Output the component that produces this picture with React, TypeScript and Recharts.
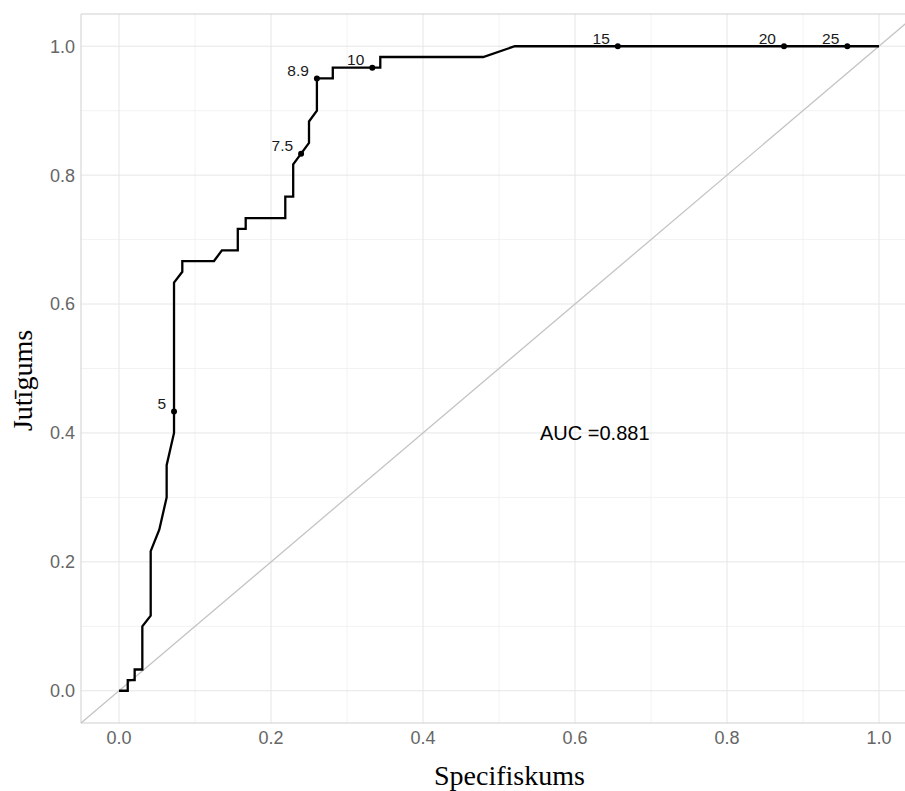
import { ComposedChart, Line, Scatter, XAxis, YAxis, CartesianGrid, ReferenceLine, ReferenceArea } from 'recharts'

// ROC curve
const rocX = [0, 0.0115, 0.0115, 0.0206, 0.0206, 0.0307, 0.0307, 0.0417, 0.0417, 0.053, 0.0627, 0.0627, 0.0724, 0.0724, 0.0724,
  0.0833, 0.0833, 0.125, 0.1354, 0.1563, 0.1563, 0.1667, 0.1667, 0.2188, 0.2188, 0.2292, 0.2292, 0.2396, 0.25, 0.25,
  0.2604, 0.2604, 0.2813, 0.2813, 0.3333, 0.3438, 0.3438, 0.4792, 0.5208, 0.6563, 0.875, 0.9583, 1]
const rocY = [0, 0, 0.0166, 0.0166, 0.033, 0.033, 0.1, 0.1166, 0.2167, 0.25, 0.3, 0.35, 0.4, 0.4333, 0.6333,
  0.65, 0.6667, 0.6667, 0.6833, 0.6833, 0.7167, 0.7167, 0.7333, 0.7333, 0.7667, 0.7667, 0.8167, 0.8333, 0.85, 0.8833,
  0.9, 0.95, 0.95, 0.9667, 0.9667, 0.9667, 0.9833, 0.9833, 1, 1, 1, 1, 1]

// threshold points
const cutLabels = ['5', '7.5', '8.9', '10', '15', '20', '25']
const cutX = [0.0724, 0.2396, 0.2604, 0.3333, 0.6563, 0.875, 0.9583]
const cutY = [0.4333, 0.8333, 0.95, 0.9667, 1, 1, 1]

const ticks = [0, 0.2, 0.4, 0.6, 0.8, 1]
const minorTicks = [0.1, 0.3, 0.5, 0.7, 0.9]
const aucText = 'AUC =0.881'

const roc = rocX.map((x, i) => ({ x, y: rocY[i] }))
const cuts = cutX.map((x, i) => ({ x, y: cutY[i], label: cutLabels[i] }))
const auc = [{ x: 0.626, y: 0.4, label: aucText }]

const sans = '"Liberation Sans", Arial, sans-serif'
const serif = '"Liberation Serif", "Times New Roman", serif'

const CutDot = (p: any) => (
  <g>
    <circle cx={p.cx} cy={p.cy} r={3} fill="#000" />
    <text x={p.cx - 8} y={p.cy - 2.5} textAnchor="end" fontSize={15.5} fontFamily={sans} fill="#1a1a1a">{p.payload.label}</text>
  </g>
)

const AucText = (p: any) => (
  <text x={p.cx} y={p.cy} textAnchor="middle" dominantBaseline="central" fontSize={20} fontFamily={sans} fill="#000">{p.payload.label}</text>
)

export default function App() {
  return (
    <div style={{ position: 'absolute', left: 0, top: 0, width: 905, height: 791, overflow: 'hidden', background: '#fff' }}>
      <ComposedChart width={920} height={791} margin={{ top: 14, right: 3, left: 0, bottom: 0 }}>
        <CartesianGrid stroke="#f2f2f2" horizontalValues={minorTicks} verticalValues={minorTicks} />
        <CartesianGrid stroke="#e6e6e6" horizontalValues={ticks} verticalValues={ticks} />
        <ReferenceArea x1={-0.05} x2={1.05} y1={-0.05} y2={1.05} fill="none" stroke="#cfcfcf" strokeWidth={1} />
        <XAxis type="number" dataKey="x" domain={[-0.05, 1.05]} ticks={ticks} allowDataOverflow
          tickFormatter={(v: number) => v.toFixed(1)} axisLine={false} tickLine={false} tickSize={6} tickMargin={2}
          height={68} tick={{ fontSize: 18, fontFamily: sans, fill: '#666' }}
          label={{ content: (p: any) => (
            <text x={p.viewBox.x + p.viewBox.width / 2 + 10.5} y={785} textAnchor="middle" fontSize={28} fontFamily={serif} fill="#000">Specifiskums</text>
          ) }} />
        <YAxis type="number" dataKey="y" domain={[-0.05, 1.05]} ticks={ticks} allowDataOverflow
          tickFormatter={(v: number) => v.toFixed(1)} axisLine={false} tickLine={false} tickSize={6} tickMargin={0}
          width={81} tick={{ fontSize: 18, fontFamily: sans, fill: '#666' }}
          label={{ content: (p: any) => {
            const cy = p.viewBox.y + p.viewBox.height / 2 + 12
            return <text x={0} y={0} transform={`translate(32, ${cy}) rotate(-90)`} textAnchor="middle" fontSize={28} fontFamily={serif} fill="#000">Jutīgums</text>
          } }} />
        <ReferenceLine segment={[{ x: -0.05, y: -0.05 }, { x: 1.05, y: 1.05 }]} stroke="#c4c4c4" strokeWidth={1.3} />
        <Line data={roc} dataKey="y" type="linear" stroke="#000" strokeWidth={2.3} dot={false} isAnimationActive={false} />
        <Scatter data={cuts} dataKey="y" shape={CutDot} isAnimationActive={false} />
        <Scatter data={auc} dataKey="y" shape={AucText} isAnimationActive={false} />
      </ComposedChart>
    </div>
  )
}
